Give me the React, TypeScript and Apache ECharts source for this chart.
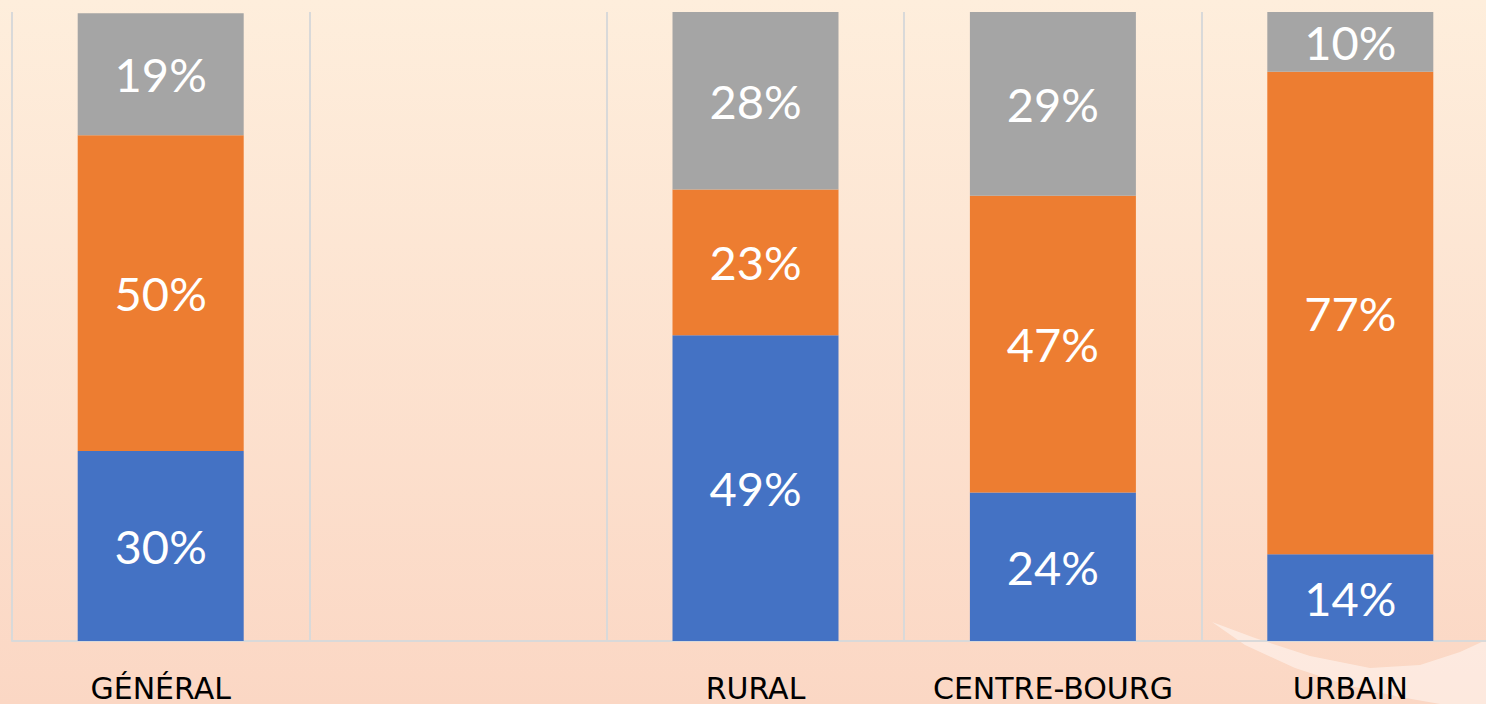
import React, { useEffect, useRef } from "react";
import * as echarts from "echarts";

const categories = ["GÉNÉRAL", "", "RURAL", "CENTRE-BOURG", "URBAIN"];
const blueValues = [30.2, null, 48.6, 23.6, 13.8];
const orangeValues = [50.2, null, 23.2, 47.2, 76.7];
const grayValues = [19.4, null, 28.2, 29.2, 9.5];

export default function App() {
  const ref = useRef<HTMLDivElement>(null);
  useEffect(() => {
    if (!ref.current) return;
    const chart = echarts.init(ref.current, null, { renderer: "svg" });
    const label = {
      show: true,
      position: "inside",
      color: "#ffffff",
      fontFamily: "Lato",
      fontSize: 47,
      formatter: (p: any) => Math.round(p.value) + "%",
    };
    const mk = (name: string, data: any[], color: string) => ({
      name,
      type: "bar",
      stack: "total",
      data,
      barWidth: 166,
      itemStyle: { color },
      label,
      emphasis: { disabled: true },
    });
    chart.setOption({
      animation: false,
      grid: { left: 12, right: -13, top: 12, bottom: 63, outerBoundsMode: "none", containLabel: false },
      graphic: [
        {
          type: "polygon",
          z: -1,
          silent: true,
          shape: {
            points: [
              [1212, 622], [1255, 638], [1310, 656], [1370, 668], [1420, 665],
              [1460, 652], [1486, 640], [1486, 704], [1440, 704], [1400, 697],
              [1350, 686], [1295, 668], [1245, 645],
            ],
          },
          style: { fill: "rgba(255,255,255,0.45)" },
        },
      ],
      xAxis: {
        type: "category",
        data: categories,
        axisLine: { show: true, lineStyle: { color: "#D9D9D9", width: 2 } },
        axisTick: { show: false },
        splitLine: { show: true, interval: 0, lineStyle: { color: "#D9D9D9", width: 2 } },
        axisLabel: {
          interval: 0,
          color: "#000000",
          fontFamily: "DejaVu Sans",
          fontSize: 30,
          margin: 32,
        },
      },
      yAxis: {
        type: "value",
        min: 0,
        max: 100,
        show: false,
        splitLine: { show: false },
      },
      series: [
        mk("Bleu", blueValues, "#4472C4"),
        mk("Orange", orangeValues, "#ED7D31"),
        mk("Gris", grayValues, "#A5A5A5"),
      ],
    });
    return () => chart.dispose();
  }, []);
  return (
    <div
      ref={ref}
      style={{
        position: "absolute",
        left: 0,
        top: 0,
        width: 1486,
        height: 704,
        background: "linear-gradient(#FEEEDC, #FBD7C4)",
      }}
    />
  );
}
